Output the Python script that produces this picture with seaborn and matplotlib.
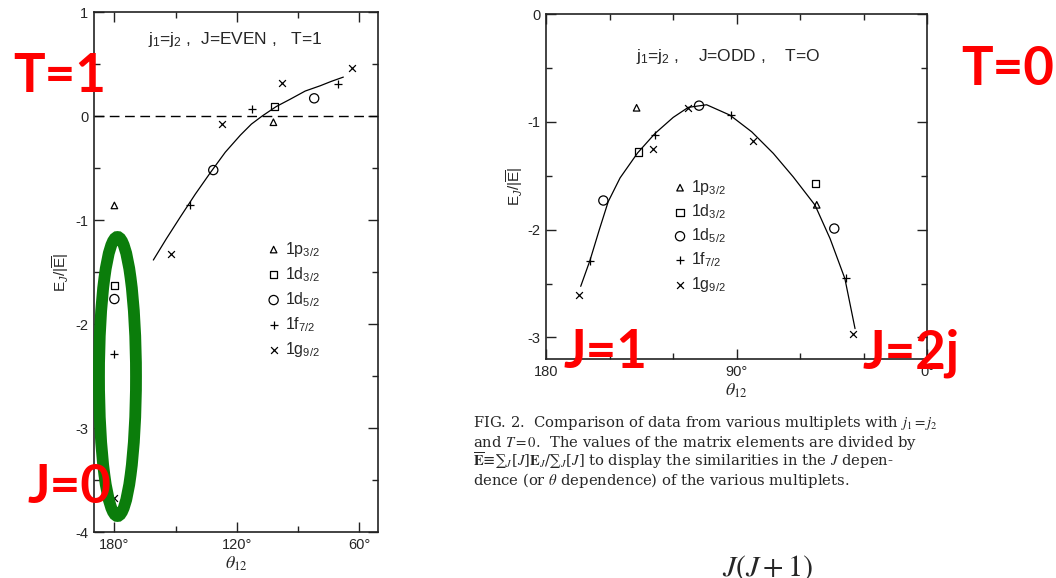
import numpy as np
import pandas as pd
import matplotlib
matplotlib.use("Agg")
import matplotlib.pyplot as plt
from matplotlib.patches import Ellipse
from matplotlib.ticker import MultipleLocator
import seaborn as sns

sns.set_style("ticks")
plt.rcParams["font.family"] = ["Liberation Sans", "DejaVu Sans"]
plt.rcParams["mathtext.fontset"] = "custom"
plt.rcParams["mathtext.rm"] = "Liberation Sans"
plt.rcParams["mathtext.it"] = "Liberation Sans:italic"
plt.rcParams["mathtext.bf"] = "Liberation Sans:bold"
plt.rcParams["axes.edgecolor"] = "#222222"

# ---- single-particle orbitals and their plotting symbols ----
orbitals = ["1p3/2", "1d3/2", "1d5/2", "1f7/2", "1g9/2"]
orbital_labels = ["1p$_{3/2}$", "1d$_{3/2}$", "1d$_{5/2}$", "1f$_{7/2}$", "1g$_{9/2}$"]
orbital_markers = ["^", "s", "o", "+", "x"]
orbital_sizes = [22, 26, 44, 40, 24]

# ---- T=1, even J multiplets ----
even_orbital = ["1p3/2", "1p3/2",
                "1d3/2", "1d3/2",
                "1d5/2", "1d5/2", "1d5/2",
                "1f7/2", "1f7/2", "1f7/2", "1f7/2",
                "1g9/2", "1g9/2", "1g9/2", "1g9/2", "1g9/2"]
even_theta = [180, 102.0,
              180, 101.6,
              180, 131.5, 82.0,
              180, 143.0, 112.4, 70.2,
              180, 152.0, 127.0, 97.6, 63.3]
even_energy = [-0.86, -0.06,
               -1.63, 0.09,
               -1.76, -0.52, 0.17,
               -2.29, -0.86, 0.07, 0.31,
               -3.67, -1.33, -0.08, 0.32, 0.46]

even_curve_theta = [160.9, 154.5, 147.6, 140.3, 132.9, 125.6, 118.2, 112.8,
                    107.5, 100.6, 93.7, 86.4, 79.0, 73.6, 67.7]
even_curve_energy = [-1.385, -1.18, -0.969, -0.751, -0.544, -0.348, -0.184, -0.078,
                     0.0, 0.091, 0.162, 0.24, 0.291, 0.333, 0.374]

# ---- T=0, odd J multiplets ----
odd_orbital = ["1p3/2", "1p3/2",
               "1d3/2", "1d3/2",
               "1d5/2", "1d5/2", "1d5/2",
               "1f7/2", "1f7/2", "1f7/2", "1f7/2",
               "1g9/2", "1g9/2", "1g9/2", "1g9/2", "1g9/2"]
odd_theta = [137.2, 52.1,
             136.5, 52.5,
             152.9, 107.7, 43.8,
             159.2, 128.5, 92.8, 38.4,
             164.4, 129.3, 112.8, 82.1, 35.1]
odd_energy = [-0.87, -1.77,
              -1.28, -1.57,
              -1.73, -0.85, -1.99,
              -2.29, -1.12, -0.94, -2.45,
              -2.61, -1.25, -0.87, -1.18, -2.97]

odd_curve_theta = [163.6, 159.2, 154.8, 150.6, 145.0, 136.7, 128.5, 119.9, 112.8, 104.1,
                   93.1, 82.8, 72.6, 63.2, 52.9, 45.8, 38.8, 34.0]
odd_curve_energy = [-2.526, -2.284, -2.0, -1.74, -1.52, -1.288, -1.108, -0.959, -0.866, -0.842,
                    -0.938, -1.093, -1.293, -1.511, -1.773, -2.083, -2.454, -2.918]

even_df = pd.DataFrame({"theta": even_theta, "E": even_energy, "orbital": even_orbital})
odd_df = pd.DataFrame({"theta": odd_theta, "E": odd_energy, "orbital": odd_orbital})
even_curve = pd.DataFrame({"theta": even_curve_theta, "E": even_curve_energy})
odd_curve = pd.DataFrame({"theta": odd_curve_theta, "E": odd_curve_energy})

W, H = 1056, 578
fig = plt.figure(figsize=(W / 100, H / 100), dpi=100)
fig.patch.set_facecolor("white")


def px_axes(x0, y0, x1, y1):
    return fig.add_axes([x0 / W, 1 - y1 / H, (x1 - x0) / W, (y1 - y0) / H])


def draw_points(ax, df):
    for orb, lab, m, s in zip(orbitals, orbital_labels, orbital_markers, orbital_sizes):
        sub = df[df["orbital"] == orb]
        if m in ("+", "x"):
            kw = dict(color="black", edgecolor="black")
        else:
            kw = dict(color="black", facecolor="none", edgecolor="black")
        sns.scatterplot(data=sub, x="theta", y="E", marker=m, s=s, linewidth=0.9,
                        ax=ax, label=lab, zorder=3, **kw)


def style_axes(ax):
    ax.tick_params(which="both", direction="in", top=True, right=True,
                   labelsize=10.5, pad=4, width=1.0, color="#222222")
    ax.tick_params(which="major", length=7)
    ax.tick_params(which="minor", length=4)
    for sp in ax.spines.values():
        sp.set_linewidth(1.2)
        sp.set_visible(True)


ylabel = "E$_J$/|$\\overline{\\mathrm{E}}$|"

# ---------------- left panel ----------------
axL = px_axes(94, 12, 378, 532)
draw_points(axL, even_df)
sns.lineplot(data=even_curve, x="theta", y="E", sort=False, estimator=None,
             color="black", linewidth=0.9, ax=axL)
axL.axhline(0, color="black", linewidth=1.0, linestyle=(0, (7, 4)), zorder=1)
axL.set_xlim(190, 50.7)
axL.set_ylim(-4, 1)
axL.set_xticks([180, 120, 60])
axL.set_xticklabels(["180°", "120°", "60°"])
axL.xaxis.set_minor_locator(MultipleLocator(30))
axL.set_yticks([1, 0, -1, -2, -3, -4])
axL.set_yticklabels(["1", "0", "-1", "-2", "-3", "-4"])
axL.yaxis.set_minor_locator(MultipleLocator(0.5))
style_axes(axL)
axL.set_xlabel("$\\theta_{12}$", fontsize=13, math_fontfamily="stix", labelpad=2)
axL.set_ylabel(ylabel, fontsize=11, labelpad=3)
axL.legend(loc="upper left", bbox_to_anchor=(0.61, 0.562), frameon=False,
           fontsize=11.5, handlelength=0.8, handletextpad=0.3, labelspacing=0.4,
           borderpad=0, borderaxespad=0)

# ---------------- right panel ----------------
axR = px_axes(546, 14, 927, 359)
draw_points(axR, odd_df)
sns.lineplot(data=odd_curve, x="theta", y="E", sort=False, estimator=None,
             color="black", linewidth=0.9, ax=axR)
axR.set_xlim(180, 0)
axR.set_ylim(-3.2, 0)
axR.set_xticks([180, 90, 0])
axR.set_xticklabels(["180", "90°", "0°"])
axR.xaxis.set_minor_locator(MultipleLocator(30))
axR.set_yticks([0, -1, -2, -3])
axR.set_yticklabels(["0", "-1", "-2", "-3"])
axR.yaxis.set_minor_locator(MultipleLocator(0.5))
style_axes(axR)
axR.set_xlabel("$\\theta_{12}$", fontsize=13, math_fontfamily="stix", labelpad=2)
axR.set_ylabel(ylabel, fontsize=11, labelpad=2)
axR.legend(loc="upper left", bbox_to_anchor=(0.335, 0.525), frameon=False,
           fontsize=11.5, handlelength=0.8, handletextpad=0.3, labelspacing=0.34,
           borderpad=0, borderaxespad=0)

# ---------------- overlay: headings, caption and slide notes ----------------
ov = fig.add_axes([0, 0, 1, 1], zorder=10)
ov.set_xlim(0, W)
ov.set_ylim(H, 0)
ov.axis("off")
ov.patch.set_alpha(0)

ov.text(235, 44, "j$_1$=j$_2$ ,  J=EVEN ,   T=1", ha="center", va="baseline", fontsize=12.5)
ov.text(728, 61, "j$_1$=j$_2$ ,    J=ODD ,    T=O", ha="center", va="baseline", fontsize=12.5)

caption = [
    "FIG. 2.  Comparison of data from various multiplets with $j_1=j_2$",
    "and $T=0$.  The values of the matrix elements are divided by",
    "$\\mathbf{\\overline{E}}$≡∑$_J$[$J$]$\\mathbf{E}_J$/∑$_J$[$J$] to display the similarities in the $J$ depen-",
    "dence (or $\\theta$ dependence) of the various multiplets.",
]
for i, line in enumerate(caption):
    ov.text(473, 427.5 + 19.3 * i, line, ha="left", va="baseline", fontsize=10.6,
            family="DejaVu Serif", math_fontfamily="stix")

ov.text(722, 576, "$J(J+1)$", ha="left", va="baseline", fontsize=21.5,
        math_fontfamily="stix")

ov.add_patch(Ellipse((117.5, 376.5), width=37, height=279, fill=False,
                     edgecolor="#0b7d0b", linewidth=8.5))

red = dict(color="#ff0000", fontsize=38, fontweight="bold", family="Lato",
           ha="left", va="baseline")
ov.text(13, 92, "T=1", **red)
ov.text(961, 85, "T=0", **red)
ov.text(563, 368, "J=1", **red)
ov.text(862, 368, "J=2j", **red)
ov.text(27, 503, "J=0", **red)

fig.savefig("out.png", dpi=100, facecolor="white")
